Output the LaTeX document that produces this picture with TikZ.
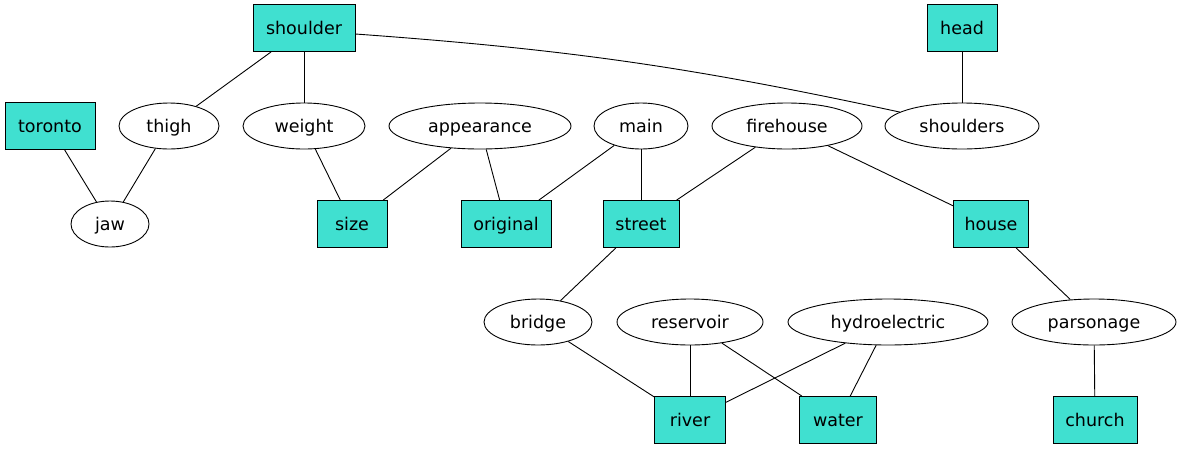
\documentclass[tikz,border=0pt]{standalone}
\usepackage{fontspec}
\setmainfont{DejaVu Sans}
\usetikzlibrary{shapes.geometric}
\definecolor{turq}{HTML}{40E0D0}
\begin{document}
\begin{tikzpicture}[x=1pt,y=-1pt,
  every node/.style={font=\fontsize{17.5}{20}\selectfont, inner sep=0pt, text height=13pt, text depth=0pt},
  bx/.style={rectangle, draw=black, fill=turq, line width=0.9pt, minimum height=47pt},
  el/.style={ellipse, draw=black, line width=0.9pt, minimum height=46pt},
  every path/.style={line width=0.9pt}]
\useasboundingbox (0,0) rectangle (1183,451);
\node[bx, minimum width=102pt] (shoulder) at (304,28) {shoulder};
\node[bx, minimum width=70pt] (head) at (962,28) {head};
\node[bx, minimum width=90pt] (toronto) at (50,126) {toronto};
\node[el, minimum width=100pt] (thigh) at (169,126) {thigh};
\node[el, minimum width=122pt] (weight) at (304,126) {weight};
\node[el, minimum width=182pt] (appearance) at (480,126) {appearance};
\node[el, minimum width=94pt] (main) at (641,126) {main};
\node[el, minimum width=150pt] (firehouse) at (787,126) {firehouse};
\node[el, minimum width=154pt] (shoulders) at (962,126) {shoulders};
\node[el, minimum width=78pt] (jaw) at (110,224) {jaw};
\node[bx, minimum width=70pt] (size) at (352,224) {size};
\node[bx, minimum width=90pt] (original) at (506,224) {original};
\node[bx, minimum width=76pt] (street) at (641,224) {street};
\node[bx, minimum width=75pt] (house) at (991,224) {house};
\node[el, minimum width=108pt] (bridge) at (538,322) {bridge};
\node[el, minimum width=146pt] (reservoir) at (690,322) {reservoir};
\node[el, minimum width=200pt] (hydroelectric) at (888,322) {hydroelectric};
\node[el, minimum width=164pt] (parsonage) at (1094,322) {parsonage};
\node[bx, minimum width=71pt] (river) at (690,420) {river};
\node[bx, minimum width=77pt] (water) at (838,420) {water};
\node[bx, minimum width=84pt] (church) at (1095,420) {church};
\draw (shoulder) -- (thigh);
\draw (shoulder) -- (weight);
\draw (shoulder.east) ++(0,6) to[bend left=4] (shoulders);
\draw (head) -- (shoulders);
\draw (toronto) -- (jaw);
\draw (thigh) -- (jaw);
\draw (weight) -- (size);
\draw (appearance) -- (size);
\draw (appearance) -- (original);
\draw (main) -- (original);
\draw (main) -- (street);
\draw (firehouse) -- (street);
\draw (firehouse) -- (house);
\draw (street) -- (bridge);
\draw (house) -- (parsonage);
\draw (bridge) -- (river);
\draw (reservoir) -- (river);
\draw (reservoir) -- (water);
\draw (hydroelectric) -- (river);
\draw (hydroelectric) -- (water);
\draw (parsonage) -- (church);
\end{tikzpicture}
\end{document}
